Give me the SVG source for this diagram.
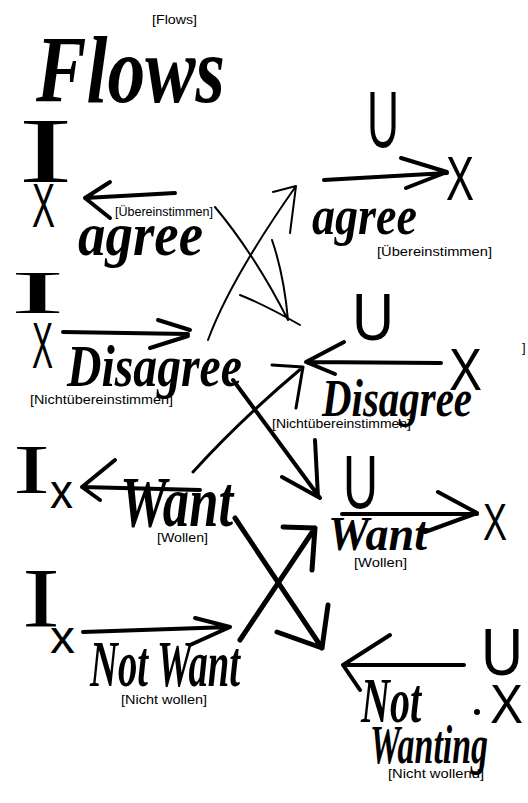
<svg xmlns="http://www.w3.org/2000/svg" width="528" height="803" viewBox="0 0 528 803">
<style>
.hw{font-family:"Liberation Serif",serif;font-style:italic;font-weight:bold;fill:#000}
.sym{font-family:"Liberation Serif",serif;fill:#000}
.sx{font-family:"Liberation Sans",sans-serif;fill:#000}
.lbl{font-family:"Liberation Sans",Arial,sans-serif;font-size:13px;fill:#000}
.ln{fill:none;stroke:#000;stroke-linecap:round;stroke-linejoin:round}
.w2{stroke-width:2}
.w3{stroke-width:3}
.w4{stroke-width:4}
.w5{stroke-width:5}
</style>
<rect width="528" height="803" fill="#fff"/>

<g id="title">
  <text class="lbl" x="152" y="24" textLength="45" lengthAdjust="spacingAndGlyphs">[Flows]</text>
  <text class="hw" x="36" y="102" font-size="96" textLength="189" lengthAdjust="spacingAndGlyphs">Flows</text>
</g>

<g id="left-agree">
  <text class="sym" x="18" y="182" font-size="94" textLength="55" lengthAdjust="spacingAndGlyphs">I</text>
  <text class="sx" x="32" y="227" font-size="63" textLength="23" lengthAdjust="spacingAndGlyphs">X</text>
  <text class="hw" x="78" y="255" font-size="62" textLength="125" lengthAdjust="spacingAndGlyphs">agree</text>
  <text class="lbl" x="115" y="216" textLength="98" lengthAdjust="spacingAndGlyphs">[Übereinstimmen]</text>
</g>

<g id="left-disagree">
  <text class="sym" x="10" y="313" font-size="62" textLength="55" lengthAdjust="spacingAndGlyphs">I</text>
  <text class="sx" x="32" y="368" font-size="64" textLength="21" lengthAdjust="spacingAndGlyphs">X</text>
  <text class="hw" x="67" y="386" font-size="60" textLength="175" lengthAdjust="spacingAndGlyphs">Disagree</text>
  <text class="lbl" x="30" y="404" textLength="143" lengthAdjust="spacingAndGlyphs">[Nichtübereinstimmen]</text>
</g>

<g id="left-want">
  <text class="sym" x="13" y="493" font-size="70" textLength="37" lengthAdjust="spacingAndGlyphs">I</text>
  <text class="sx" x="50" y="508" font-size="48" textLength="23" lengthAdjust="spacingAndGlyphs">x</text>
  <text class="hw" x="120" y="526" font-size="72" textLength="113" lengthAdjust="spacingAndGlyphs">Want</text>
  <text class="lbl" x="157" y="542" textLength="51" lengthAdjust="spacingAndGlyphs">[Wollen]</text>
</g>

<g id="left-notwant">
  <text class="sym" x="22" y="627" font-size="84" textLength="38" lengthAdjust="spacingAndGlyphs">I</text>
  <text class="sx" x="50" y="653" font-size="46" textLength="25" lengthAdjust="spacingAndGlyphs">x</text>
  <text class="hw" x="90" y="686" font-size="66" textLength="150" lengthAdjust="spacingAndGlyphs">Not Want</text>
  <text class="lbl" x="121" y="704" textLength="86" lengthAdjust="spacingAndGlyphs">[Nicht wollen]</text>
</g>

<g id="right-agree">
  <text class="sx" x="367" y="147" font-size="80" textLength="32" lengthAdjust="spacingAndGlyphs">U</text>
  <text class="sx" x="446" y="200" font-size="63" textLength="28" lengthAdjust="spacingAndGlyphs">X</text>
  <text class="hw" x="312" y="234" font-size="54" textLength="105" lengthAdjust="spacingAndGlyphs">agree</text>
  <text class="lbl" x="377" y="256" textLength="115" lengthAdjust="spacingAndGlyphs">[Übereinstimmen]</text>
</g>

<g id="right-disagree">
  <text class="sx" x="352" y="340" font-size="66" textLength="42" lengthAdjust="spacingAndGlyphs">U</text>
  <text class="sx" x="449" y="390" font-size="60" textLength="33" lengthAdjust="spacingAndGlyphs">X</text>
  <text class="hw" x="322" y="416" font-size="52" textLength="150" lengthAdjust="spacingAndGlyphs">Disagree</text>
  <text class="lbl" x="272" y="428" textLength="139" lengthAdjust="spacingAndGlyphs">[Nichtübereinstimmen]</text>
  <text class="lbl" x="522" y="352" font-size="16">]</text>
</g>

<g id="right-want">
  <text class="sx" x="343" y="508" font-size="76" textLength="35" lengthAdjust="spacingAndGlyphs">U</text>
  <text class="sx" x="483" y="540" font-size="52" textLength="24" lengthAdjust="spacingAndGlyphs">X</text>
  <text class="hw" x="328" y="550" font-size="48" textLength="99" lengthAdjust="spacingAndGlyphs">Want</text>
  <text class="lbl" x="354" y="567" textLength="53" lengthAdjust="spacingAndGlyphs">[Wollen]</text>
</g>

<g id="right-notwanting">
  <text class="sx" x="481" y="675" font-size="67" textLength="42" lengthAdjust="spacingAndGlyphs">U</text>
  <text class="sx" x="490" y="723" font-size="56" textLength="33" lengthAdjust="spacingAndGlyphs">X</text>
  <circle cx="477" cy="712" r="3" fill="#000"/>
  <text class="hw" x="361" y="722" font-size="64" textLength="60" lengthAdjust="spacingAndGlyphs">Not</text>
  <text class="hw" x="370" y="763" font-size="54" textLength="118" lengthAdjust="spacingAndGlyphs">Wanting</text>
  <text class="lbl" x="388" y="778" textLength="96" lengthAdjust="spacingAndGlyphs">[Nicht wollend]</text>
</g>

<g id="connectors">
  <path class="ln w4" d="M175,193 L85,198 M110,182 L85,198 L110,218"/>
  <path class="ln w4" d="M63,332 L188,334 M158,320 L190,330 M150,348 L188,336"/>
  <path class="ln w4" d="M200,490 L82,487 M115,460 L82,487 L100,500"/>
  <path class="ln w4" d="M83,632 L230,627 M195,618 L230,627 L190,645"/>
  <path class="ln w4" d="M324,180 L447,173 M401,158 L447,172 L406,188"/>
  <path class="ln w4" d="M441,363 L306,362 M344,342 L306,362 L335,374"/>
  <path class="ln w4" d="M342,514 L477,514 M438,492 L477,513 L425,532"/>
  <path class="ln w4" d="M464,665 L343,665 M390,635 L343,665 L360,690"/>
  <path class="ln w2" d="M215,207 Q255,255 288,320 M272,240 Q284,275 288,320 M240,295 Q265,305 300,325"/>
  <path class="ln w2" d="M208,340 Q230,280 296,186 M273,192 L296,186 L290,233"/>
  <path class="ln w4" d="M233,380 L320,498 M282,477 L320,498 M315,440 L318,497"/>
  <path class="ln w3" d="M193,472 Q240,420 303,367 M272,365 L303,367 L296,408"/>
  <path class="ln w5" d="M235,518 L322,648 M277,632 L322,648 L328,605"/>
  <path class="ln w5" d="M240,640 L315,528 M283,527 L315,528 L312,570"/>
</g>
</svg>
